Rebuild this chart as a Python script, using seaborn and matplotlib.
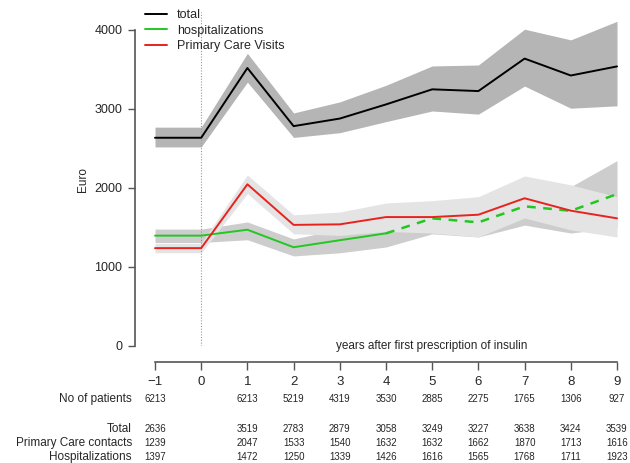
import matplotlib
matplotlib.use("Agg")
import matplotlib.pyplot as plt
import matplotlib.transforms as mtransforms
from matplotlib.lines import Line2D
import seaborn as sns
import pandas as pd

years = [-1, 0, 1, 2, 3, 4, 5, 6, 7, 8, 9]
total = [2636, 2636, 3519, 2783, 2879, 3058, 3249, 3227, 3638, 3424, 3539]
total_lo = [2520, 2520, 3340, 2640, 2700, 2840, 2975, 2935, 3290, 3010, 3040]
total_hi = [2770, 2770, 3705, 2950, 3090, 3300, 3545, 3557, 4010, 3875, 4110]
pc = [1239, 1239, 2047, 1533, 1540, 1632, 1632, 1662, 1870, 1713, 1616]
pc_lo = [1180, 1180, 1930, 1420, 1400, 1450, 1430, 1380, 1620, 1470, 1380]
pc_hi = [1300, 1300, 2165, 1660, 1696, 1810, 1840, 1890, 2152, 2040, 1890]
hosp = [1397, 1397, 1472, 1250, 1339, 1426, 1616, 1565, 1768, 1711, 1923]
hosp_lo = [1310, 1310, 1345, 1140, 1180, 1253, 1420, 1380, 1530, 1430, 1500]
hosp_hi = [1480, 1480, 1570, 1355, 1480, 1600, 1800, 1760, 2000, 2017, 2346]
patients = ["6213", "", "6213", "5219", "4319", "3530", "2885", "2275", "1765", "1306", "927"]
yticks = [0, 1000, 2000, 3000, 4000]
legend_labels = ["total", "hospitalizations", "Primary Care Visits"]
row_labels = ["No of patients", "Total", "Primary Care contacts", "Hospitalizations"]
xlabel = "years after first prescription of insulin"

sns.set_style("white")
plt.rcParams['font.family'] = ['Liberation Sans', 'DejaVu Sans']

W, H = 630, 463
fig = plt.figure(figsize=(W / 100, H / 100), dpi=100)
# axes in pixel coords: left 135, right 630, top 10, bottom 346
ax = fig.add_axes([135 / W, 1 - 346 / H, (630 - 135) / W, (346 - 10) / H])
px_per_unit = (617 - 155) / 10
ax.set_xlim(-1 - 20 / px_per_unit, 9 + 13 / px_per_unit)
py_per_unit = (346 - 30) / 4000
ax.set_ylim(0, 4000 + 20 / py_per_unit)

df = pd.DataFrame({"year": years, "total": total, "pc": pc, "hosp": hosp})

BLACK = "#000000"
GREEN = "#22c722"
RED = "#e8231f"

ax.fill_between(years, total_lo, total_hi, color="#b5b5b5", lw=0, zorder=1)
ax.fill_between(years, hosp_lo, hosp_hi, color="#cdcdcd", lw=0, zorder=1)
ax.fill_between(years, pc_lo, pc_hi, color="#e4e4e4", lw=0, zorder=1.1)

sns.lineplot(data=df, x="year", y="total", color=BLACK, lw=1.4, ax=ax, zorder=3)
sns.lineplot(data=df[df.year <= 4], x="year", y="hosp", color=GREEN, lw=1.4, ax=ax, zorder=3)
sns.lineplot(data=df[df.year >= 4], x="year", y="hosp", color=GREEN, lw=1.8, ax=ax,
             zorder=3, dashes=False, linestyle=(0, (3.5, 3)))
sns.lineplot(data=df, x="year", y="pc", color=RED, lw=1.4, ax=ax, zorder=3)

ax.axvline(0, ymin=0, ymax=0.995, color="#999999", lw=0.8, ls=(0, (1, 1.5)), zorder=2)

# y axis
ax.spines['top'].set_visible(False)
ax.spines['right'].set_visible(False)
ax.spines['left'].set_bounds(0, 4000)
ax.spines['left'].set_color("#555555")
ax.spines['left'].set_linewidth(1.2)
ax.set_yticks(yticks)
ax.set_yticklabels([str(v) for v in yticks])
ax.tick_params(axis='y', direction='out', length=5, width=1.0, color="#555555",
               labelsize=9, pad=4, left=True)
ax.set_ylabel("Euro", fontsize=8.5)
ax.yaxis.set_label_coords(-(135 - 89) / (630 - 135), 0.5 - 2 / 336)

# bottom axis
ax.spines['bottom'].set_position(('outward', 16 * 0.72))
ax.spines['bottom'].set_bounds(-1, 9)
ax.spines['bottom'].set_color("#555555")
ax.spines['bottom'].set_linewidth(1.2)
ax.set_xticks(years)
ax.set_xticklabels(["\u22121" if y < 0 else str(y) for y in years])
ax.tick_params(axis='x', direction='out', length=6, width=1.0, color="#555555",
               labelsize=9.5, pad=4, bottom=True)
ax.set_xlabel("")
ax.grid(False)

fig.text(432 / W, 1 - 346 / H, xlabel, ha='center', va='center', fontsize=8.5)

# legend
handles = [Line2D([], [], color=c, lw=1.4) for c in (BLACK, GREEN, RED)]
fig.legend(handles, legend_labels, loc='upper left', bbox_to_anchor=(145 / W, 1 - 9 / H),
           frameon=False, fontsize=9, handlelength=1.75, handletextpad=0.8,
           labelspacing=0.3, borderaxespad=0, borderpad=0)

# table below
trans = mtransforms.blended_transform_factory(ax.transData, fig.transFigure)
row_y = [399, 429, 443, 457]
for lab, yy in zip(row_labels, row_y):
    fig.text(132 / W, 1 - yy / H, lab, ha='right', va='center', fontsize=8.5)

for x, p in zip(years, patients):
    if p:
        ax.text(x, 1 - row_y[0] / H, p, transform=trans, ha='center', va='center', fontsize=7)
for series, yy in zip([total, pc, hosp], row_y[1:]):
    for x, v in zip(years, series):
        if x == 0:
            continue
        ax.text(x, 1 - yy / H, str(v), transform=trans, ha='center', va='center', fontsize=7)

fig.savefig("out.png", dpi=100)
